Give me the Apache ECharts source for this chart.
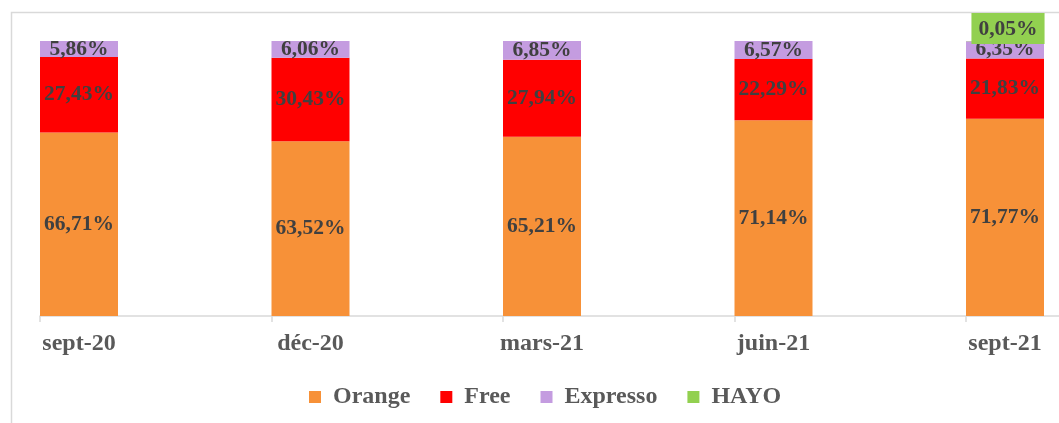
<!DOCTYPE html>
<html>
<head>
<meta charset="utf-8">
<script src="https://cdn.jsdelivr.net/npm/echarts@6/dist/echarts.min.js"></script>
<style>
html,body{margin:0;padding:0;background:#fff;}
#chart{width:1059px;height:423px;}
</style>
</head>
<body>
<div id="chart"></div>
<script>
const categories = ['sept-20', 'déc-20', 'mars-21', 'juin-21', 'sept-21'];
const seriesNames = ['Orange', 'Free', 'Expresso', 'HAYO'];
const orange = [66.71, 63.52, 65.21, 71.14, 71.77];
const free = [27.43, 30.43, 27.94, 22.29, 21.83];
const expresso = [5.86, 6.06, 6.85, 6.57, 6.35];
const hayo = [0, 0, 0, 0, 0.05];

const BAND_PX = 231.5;
const BAR_PX = 78;
const GRID_LEFT = 40;
const GRID_WIDTH = BAND_PX * categories.length;

const font = '"Liberation Serif", "Times New Roman", serif';
const fmt = v => v.toFixed(2).replace('.', ',') + '%';

function mk(name, arr, color, extraLabel) {
  return {
    name: name,
    type: 'bar',
    stack: 'total',
    barWidth: BAR_PX,
    barGap: 0,
    data: arr.map(v => ({ value: v, label: { show: v > 0 } })),
    itemStyle: { color: color },
    label: Object.assign({
      show: true,
      position: 'inside',
      fontFamily: font,
      fontWeight: 'bold',
      fontSize: 21.5,
      color: '#404040',
      formatter: p => fmt(p.value)
    }, extraLabel || {})
  };
}

const chart = echarts.init(document.getElementById('chart'));
chart.setOption({
  animation: false,
  backgroundColor: '#fff',
  graphic: [{
    type: 'rect',
    shape: { x: 11.5, y: 12.5, width: 1200, height: 600 },
    style: { fill: 'none', stroke: '#d9d9d9', lineWidth: 1.5 },
    silent: true
  }],
  grid: {
    left: GRID_LEFT, width: GRID_WIDTH, top: 41, bottom: 107,
    containLabel: false, outerBoundsMode: 'none'
  },
  xAxis: {
    type: 'category',
    data: categories,
    boundaryGap: true,
    axisLine: { show: true, lineStyle: { color: '#d9d9d9', width: 1.5 } },
    axisTick: { show: true, length: 6, lineStyle: { color: '#d9d9d9', width: 1.5 } },
    axisLabel: {
      fontFamily: font,
      fontWeight: 'bold',
      fontSize: 24,
      color: '#595959',
      margin: 16,
      align: 'center',
      padding: [0, BAND_PX - BAR_PX, 0, 0]
    }
  },
  yAxis: {
    type: 'value',
    min: 0,
    max: 100,
    show: false
  },
  legend: {
    bottom: 9,
    left: 304,
    icon: 'rect',
    itemWidth: 12,
    itemHeight: 12,
    itemGap: 30,
    textStyle: {
      fontFamily: font,
      fontWeight: 'bold',
      fontSize: 24,
      color: '#595959',
      padding: [0, 0, 0, 7]
    },
    data: seriesNames.map((n, i) => i === 0
      ? { name: n, textStyle: { padding: [0, 7, 0, 7] } }
      : n)
  },
  series: [
    mk(seriesNames[0], orange, '#F79138'),
    mk(seriesNames[1], free, '#FF0000'),
    mk(seriesNames[2], expresso, '#C49CE0'),
    mk(seriesNames[3], hayo, '#92D050', {
      position: 'top',
      distance: -3,
      backgroundColor: '#92D050',
      padding: [5, 7, 4, 7],
      offset: [3, 0]
    }),
    {
      name: 'spacer',
      type: 'bar',
      stack: 'spacer',
      barWidth: BAND_PX - BAR_PX,
      data: categories.map(() => '-'),
      silent: true
    }
  ]
});
</script>
</body>
</html>
